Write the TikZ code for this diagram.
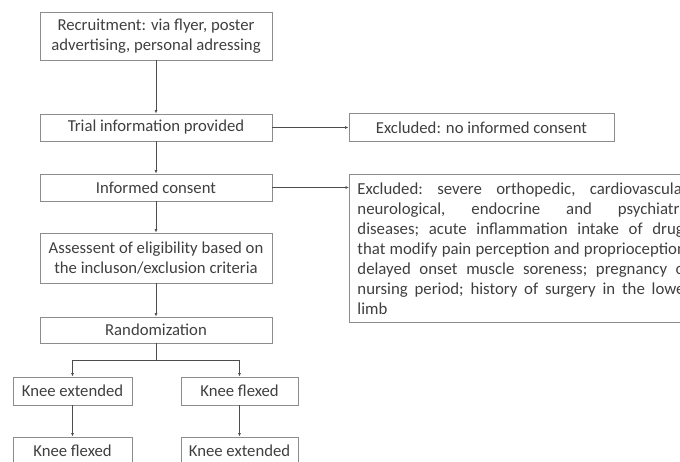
\documentclass[tikz,border=0pt]{standalone}
\usepackage{fontspec}
\setmainfont{Carlito}
\usetikzlibrary{arrows.meta}
\definecolor{boxgray}{HTML}{8C8C8C}
\definecolor{linegray}{HTML}{4D4D4D}
\definecolor{textgray}{HTML}{3F3F3F}

\begin{document}
\begin{tikzpicture}[x=1pt, y=-1pt,
        stepbox/.style={draw=boxgray, line width=0.9pt, text=textgray, align=center,
            font=\fontsize{16.7}{19.5}\selectfont, inner sep=0pt},
        flow/.style={draw=linegray, line width=0.8pt, -{Latex[length=3.5pt,width=3pt]}}]
    \useasboundingbox (0,0) rectangle (680,462);
    \clip (0,0) rectangle (680,462);

    % main column
    \node[stepbox, minimum width=232, minimum height=48] (recruit) at (156,36)
        {Recruitment: via flyer, poster\\advertising, personal adressing};
    \node[stepbox, minimum width=232, minimum height=27] (trial) at (156,127.5)
        {Trial information provided};
    \node[stepbox, minimum width=232, minimum height=27] (consent) at (156,187.5)
        {Informed consent};
    \node[stepbox, minimum width=232, minimum height=50] (assess) at (156,258)
        {Assessent of eligibility based on\\the incluson/exclusion criteria};
    \node[stepbox, minimum width=232, minimum height=26] (random) at (156,330)
        {Randomization};

    % the two arms
    \node[stepbox, minimum width=119, minimum height=28] (kext) at (72.5,391) {Knee extended};
    \node[stepbox, minimum width=117, minimum height=28] (kflex) at (239.5,391) {Knee flexed};
    \node[stepbox, minimum width=119, minimum height=28] (kflexb) at (72.5,451) {Knee flexed};
    \node[stepbox, minimum width=117, minimum height=28] (kextb) at (239.5,451) {Knee extended};

    % exclusions
    \node[stepbox, minimum width=265, minimum height=28] (noconsent) at (481.5,127.5)
        {Excluded: no informed consent};
    \node[stepbox, anchor=north west, align=justify, text width=333, inner xsep=8,
        inner ysep=8, font=\fontsize{16.8}{20}\selectfont]
        (criteria) at (349,174)
        {\sloppy\frenchspacing Excluded: severe orthopedic, cardiovascular,\linebreak
        neurological, endocrine and psychiatric\linebreak
        diseases; acute inflammation intake of drugs\linebreak
        that modify pain perception and proprioception;\linebreak
        delayed onset muscle soreness; pregnancy or\linebreak
        nursing period; history of surgery in the lower\linebreak
        limb};

    \draw[flow] (recruit) -- (trial);
    \draw[flow] (trial) -- (consent);
    \draw[flow] (consent) -- (assess);
    \draw[flow] (assess) -- (random);
    \draw[flow] (trial) -- (noconsent);
    \draw[flow] (consent.east) -- (consent.east -| criteria.west);

    \coordinate (split) at (156,360);
    \draw[draw=linegray, line width=0.8pt] (random) -- (split);
    \draw[flow] (split) -| (kext);
    \draw[flow] (split) -| (kflex);
    \draw[flow] (kext) -- (kflexb);
    \draw[flow] (kflex) -- (kextb);
\end{tikzpicture}
\end{document}
